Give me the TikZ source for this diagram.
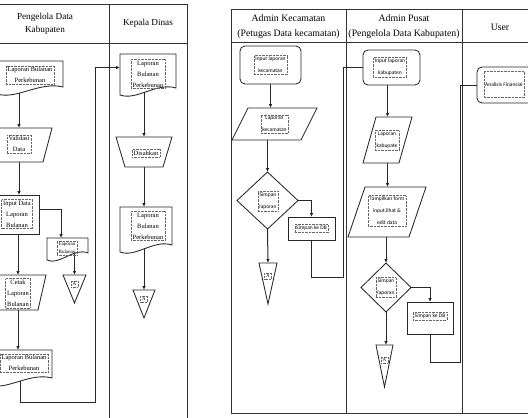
\documentclass[tikz,border=0pt]{standalone}
\usepackage{fontspec}
\setmainfont{Liberation Serif}
\newfontfamily\lblsans{Carlito}
\usetikzlibrary{arrows.meta,calc,backgrounds}

% outlines of the flowchart symbols, built on invisible rectangle nodes
\newcommand\docpath[1]{\path[outline] (#1.north west) -- (#1.north east) -- ([yshift=9pt]#1.south east)
  .. controls ($(#1.south east)!0.35!(#1.south west)+(0,-15)$) and ($(#1.south east)!0.7!(#1.south west)+(0,4)$)
  .. ([yshift=2pt]#1.south west) -- cycle;}
\newcommand\manualop[2]{\path[outline] (#1.north west) -- (#1.north east) -- ([xshift=-#2]#1.south east) -- ([xshift=#2]#1.south west) -- cycle;}
\newcommand\parallelo[2]{\path[outline] ([xshift=#2]#1.north west) -- (#1.north east) -- ([xshift=-#2]#1.south east) -- (#1.south west) -- cycle;}
\newcommand\diamondpath[1]{\path[outline] (#1.north) -- (#1.east) -- (#1.south) -- (#1.west) -- cycle;}
\newcommand\storepath[1]{\path[outline] (#1.north west) -- (#1.north east) -- (#1.south) -- cycle;}

\begin{document}
\begin{tikzpicture}[x=1pt,y=-1pt,
  frame/.style={draw=black!80, line width=0.9pt},
  sbox/.style={draw=none, inner sep=0pt, outer sep=0pt},
  outline/.style={draw=black!85, fill=white, line width=0.85pt},
  procbox/.style={outline, inner sep=0pt, outer sep=0pt},
  txtbox/.style={draw=black!60, densely dotted, line width=0.4pt, inner sep=1.5pt, align=center},
  stxt/.style={txtbox, font=\fontsize{6.5}{11}\selectfont},
  ttxt/.style={txtbox, font=\fontsize{5}{8}\selectfont},
  ktxt/.style={txtbox, font=\lblsans\fontsize{5.5}{12}\selectfont},
  flow/.style={draw=black!85, line width=1pt},
  arr/.style={flow, -{Latex[length=4pt,width=3.5pt]}},
  headL/.style={align=center, font=\fontsize{9.2}{13}\selectfont},
  headR/.style={align=center, font=\fontsize{9.8}{15}\selectfont}
]
\useasboundingbox (0,0) rectangle (528,418);
\clip (0,0) rectangle (528,418);

% ---------------- left chart: monthly plantation report ----------------
\node[sbox, minimum width=66pt, minimum height=35pt] (d1)  at (30,78.5) {};
\node[sbox, minimum width=66pt, minimum height=34pt] (val) at (19,145) {};
\node[procbox, minimum width=48pt, minimum height=39pt] (inp) at (15,214.5) {};
\node[sbox, minimum width=41pt, minimum height=24pt] (sd)  at (67.5,250) {};
\node[sbox, minimum width=23pt, minimum height=28pt] (ta)  at (74.5,289) {};
\node[sbox, minimum width=56pt, minimum height=35pt] (ctk) at (18,292.5) {};
\node[sbox, minimum width=64pt, minimum height=37pt] (d2)  at (20,368.5) {};
\node[sbox, minimum width=56pt, minimum height=43pt] (kd1) at (148,75.5) {};
\node[sbox, minimum width=56pt, minimum height=30pt] (dis) at (144,152) {};
\node[sbox, minimum width=52pt, minimum height=47pt] (kd2) at (146,230.5) {};
\node[sbox, minimum width=22pt, minimum height=28pt] (tkd) at (144,304) {};
\coordinate (k0) at (95,402);

% ---------------- right chart: district / regency data flow ----------------
\node[procbox, rounded corners=5pt, minimum width=61pt, minimum height=38pt] (ik) at (270.5,65) {};
\node[sbox, minimum width=85pt, minimum height=32pt] (lk) at (274.5,124) {};
\node[sbox, minimum width=61pt, minimum height=57pt] (sk) at (267.5,200.5) {};
\node[procbox, line width=0.95pt, minimum width=47pt, minimum height=23pt] (db1) at (311.5,228.5) {};
\node[sbox, minimum width=18pt, minimum height=41pt] (tk) at (268,283.5) {};
\node[procbox, rounded corners=5pt, minimum width=57pt, minimum height=35pt] (ip) at (391.5,67.5) {};
\node[sbox, minimum width=49pt, minimum height=46pt] (lp) at (387.5,140) {};
\node[sbox, minimum width=78pt, minimum height=50pt] (tp) at (387,212) {};
\node[sbox, minimum width=50pt, minimum height=49pt] (sp) at (386,287.5) {};
\node[procbox, line width=0.95pt, minimum width=46pt, minimum height=32pt] (db2) at (430,318) {};
\node[sbox, minimum width=17pt, minimum height=42pt] (tpz) at (384.5,366) {};
\node[procbox, rounded corners=5pt, minimum width=68pt, minimum height=36pt] (an) at (511,85) {};
\coordinate (k1) at (343,277);
\coordinate (k2) at (460,362);

% swimlane frames and connectors sit behind the symbols
\begin{pgfonlayer}{background}
  \draw[frame] (0,4) -- (187,4) -- (187,420);
  \draw[frame] (109,4) -- (109,420);
  \draw[frame] (0,43) -- (187,43);
  \draw[frame] (540,9) -- (231,9) -- (231,413) -- (540,413);
  \draw[frame] (231,42) -- (540,42);
  \draw[frame] (346,9) -- (346,413);
  \draw[frame] (462,9) -- (462,413);

  \draw[arr] (val.north |- d1.center) -- (val.north);
  \draw[arr] (val.south) -- (val.south |- inp.north);
  \draw[arr] ([yshift=5pt]inp.east) -| ([xshift=-6.5pt]sd.north);
  \draw[arr] (ta.north |- sd.center) -- (ta.north);
  \draw[arr] (ctk.north |- inp.south) -- (ctk.north);
  \draw[arr] (ctk.south) -- (ctk.south |- d2.north);
  \draw[arr] (d2.center) |- (k0) |- ([yshift=8pt]kd1.west);
  \draw[arr] (dis.north |- kd1.center) -- (dis.north);
  \draw[arr] (dis.south) -- (dis.south |- kd2.north);
  \draw[arr] (tkd.north |- kd2.center) -- (tkd.north);

  \draw[arr] (ik.south) -- (ik.south |- lk.north);
  \draw[arr] (sk.north |- lk.south) -- (sk.north);
  \draw[arr] (sk.east) -| (db1.north);
  \draw[arr] (sk.south) -- (tk.north);
  \draw[flow] (db1.south) |- (k1) |- (ip.west);
  \draw[arr] (lp.north |- ip.south) -- (lp.north);
  \draw[arr] (lp.south) -- (lp.south |- tp.north);
  \draw[arr] (sp.north |- tp.south) -- (sp.north);
  \draw[arr] (sp.east) -| (db2.north);
  \draw[arr] (sp.south) -- (sp.south |- tpz.north);
  \draw[flow] (db2.south) |- (k2) |- (an.west);
\end{pgfonlayer}

% symbol outlines
\docpath{d1} \manualop{val}{9pt} \docpath{sd} \storepath{ta}
\manualop{ctk}{8pt} \docpath{d2}
\docpath{kd1} \manualop{dis}{9pt} \docpath{kd2} \storepath{tkd}
\parallelo{lk}{16pt} \diamondpath{sk} \storepath{tk}
\parallelo{lp}{13pt} \parallelo{tp}{17pt} \diamondpath{sp} \storepath{tpz}

% lane headings
\node[headL] (h1) at (45,23.5) {Pengelola Data\\Kabupaten};
\node[headL] (h2) at (148,23) {Kepala Dinas};
\node[headR] (h3) at (288.5,26.5) {Admin Kecamatan\\(Petugas Data kecamatan)};
\node[headR] (h4) at (404,26.5) {Admin Pusat\\(Pengelola Data Kabupaten)};
\node[headR] (h5) at (500,27) {User};

% symbol labels
\node[stxt] (d1t)  at (30,75) {Laporan Bulanan\\Perkebunan};
\node[stxt] (valt) at (19,144) {Validasi\\Data};
\node[stxt] (inpt) at (17,214) {Input Data\\Laporan\\Bulanan};
\node[ttxt] (sdt)  at (67,248) {Laporan\\Bulanan};
\node[ttxt] (tat)  at (74.5,284) {A};
\node[stxt] (ctkt) at (18,293) {Cetak\\Laporan\\Bulanan};
\node[stxt] (d2t)  at (24,363) {Laporan Bulanan\\Perkebunan};
\node[stxt] (kd1t) at (148,74) {Laporan\\Bulanan\\Perkebunan};
\node[stxt] (dist) at (146,153) {Disahkan};
\node[stxt] (kd2t) at (148,226) {Laporan\\Bulanan\\Perkebunan};
\node[ttxt] (tkdt) at (144,299) {A};

\node[ktxt] (ikt)  at (270.5,65) {Input laporan\\kecamatan};
\node[ktxt] (lkt)  at (274.5,124) {Laporan\\kecamatan};
\node[ktxt] (skt)  at (268,201) {Simpan\\laporan};
\node[ktxt] (db1t) at (311.5,228.5) {Simpan ke DB};
\node[ttxt] (tkt)  at (268,276) {A};
\node[ktxt] (ipt)  at (390,67) {Input laporan\\kabupaten};
\node[ktxt] (lpt)  at (387,140) {Laporan\\kabupate};
\node[ktxt] (tpt)  at (387,211) {Tampilkan form\\input,lihat \&\\edit data};
\node[ktxt] (spt)  at (386,287.5) {Simpan\\laporan};
\node[ktxt] (db2t) at (430,316) {Simpan ke DB};
\node[ttxt] (tpzt) at (384.5,360) {A};
\node[ktxt, minimum height=26pt, anchor=north] (ant) at (504,71) {Analisis Finansial};
\end{tikzpicture}
\end{document}
